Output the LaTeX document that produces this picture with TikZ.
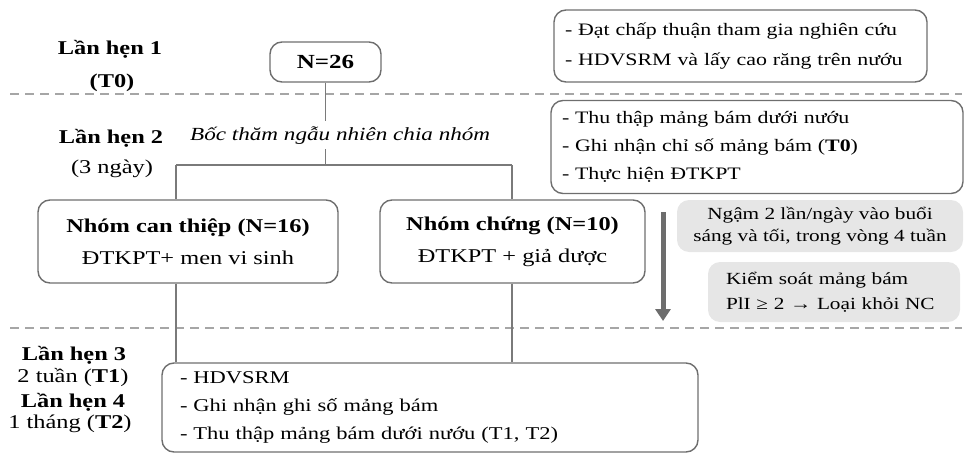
\documentclass[tikz,border=0pt]{standalone}
\usepackage{fontspec}
\setmainfont{Liberation Serif}[FakeStretch=1.25]
\usetikzlibrary{arrows.meta}
\definecolor{linegray}{HTML}{7A7A7A}
\definecolor{boxgray}{HTML}{6E6E6E}
\definecolor{dashgray}{HTML}{A6A6A6}
\definecolor{fillgray}{HTML}{E6E6E6}
\definecolor{arrowgray}{HTML}{6D6D6D}
\tikzset{
  rbox/.style={draw=boxgray, line width=1.4pt, rounded corners=12pt, inner sep=0pt},
  gbox/.style={fill=fillgray, rounded corners=12pt, inner sep=0pt},
  conn/.style={draw=linegray, line width=1.6pt},
  sep/.style={draw=dashgray, line width=1.3pt, dash pattern=on 9pt off 6pt},
  lbl/.style={anchor=base, inner sep=0pt, font=\fontsize{19.5}{22}\selectfont},
  boxtxt/.style={font=\fontsize{17.5}{30}\selectfont},
}
\begin{document}
\begin{tikzpicture}[x=1pt,y=-1pt]
\useasboundingbox (0,0) rectangle (965,455);
% separators
\coordinate (s1l) at (10,94); \coordinate (s1r) at (962,94);
\coordinate (s2l) at (10,328); \coordinate (s2r) at (962,328);
\draw[sep] (s1l) -- (s1r);
\draw[sep] (s2l) -- (s2r);
% left labels
\node[lbl] (l1) at (110,54) {\textbf{Lần hẹn 1}};
\node[lbl] (l1b) at (112,87) {\textbf{(T0)}};
\node[lbl] (l2) at (111,143) {\textbf{Lần hẹn 2}};
\node[lbl] (l2b) at (112,173) {(3 ngày)};
\node[lbl] (l3) at (74,360) {\textbf{Lần hẹn 3}};
\node[lbl] (l3b) at (73,382) {2 tuần (\textbf{T1})};
\node[lbl] (l4) at (73,407) {\textbf{Lần hẹn 4}};
\node[lbl] (l4b) at (70,428) {1 tháng (\textbf{T2})};
% N=26
\node[rbox, minimum width=111pt, minimum height=40pt, font=\fontsize{20}{24}\selectfont\bfseries] (n26) at (325.5,62) {N=26};
% top-right box
\node[rbox, boxtxt, minimum width=373pt, minimum height=72pt, text width=351pt, align=left, inner xsep=11pt] (b1) at (740.5,46)
  {- Đạt chấp thuận tham gia nghiên cứu\\- HDVSRM và lấy cao răng trên nướu};
% second right box
\node[rbox, minimum width=412pt, minimum height=93pt, text width=390pt, align=left, inner xsep=11pt, font=\fontsize{17.5}{28}\selectfont] (b2) at (757,147)
  {- Thu thập mảng bám dưới nướu\\- Ghi nhận chỉ số mảng bám (\textbf{T0})\\- Thực hiện ĐTKPT};
% randomisation text
\node[anchor=base west, inner xsep=0pt, inner ysep=5pt, font=\fontsize{18.5}{22}\selectfont\itshape] (rand) at (190,140) {Bốc thăm ngẫu nhiên chia nhóm};
% group boxes
\node[rbox, minimum width=300pt, minimum height=83pt, align=center, font=\fontsize{19.5}{32}\selectfont] (ct) at (188,241.5)
  {\textbf{Nhóm can thiệp (N=16)}\\ĐTKPT+ men vi sinh};
\node[rbox, minimum width=265pt, minimum height=83pt, align=center, font=\fontsize{19.5}{32}\selectfont] (nc) at (512.5,241.5)
  {\textbf{Nhóm chứng (N=10)}\\ĐTKPT + giả dược};
% grey boxes
\node[gbox, minimum width=286pt, minimum height=52pt, align=center, font=\fontsize{17}{22}\selectfont] (g1) at (820,226)
  {Ngậm 2 lần/ngày vào buổi\\sáng và tối, trong vòng 4 tuần};
\node[gbox, minimum width=252pt, minimum height=60pt, text width=216pt, inner xsep=18pt, align=left, font=\fontsize{17}{25}\selectfont] (g2) at (834,292)
  {Kiểm soát mảng bám\\PlI ≥ 2 → Loại khỏi NC};
% bottom box
\node[rbox, minimum width=536pt, minimum height=89pt, text width=500pt, inner xsep=18pt, align=left, font=\fontsize{18}{28}\selectfont] (bot) at (430,407.5)
  {- HDVSRM\\- Ghi nhận ghi số mảng bám\\- Thu thập mảng bám dưới nướu (T1, T2)};
% connectors
\coordinate (split) at (325.5,165);
\coordinate (L) at (176,165);
\coordinate (R) at (512,165);
\draw[conn] (n26.south) -- (n26.south |- rand.north);
\draw[conn] (n26.south |- rand.south) -- (split);
\draw[conn] (L) -- (R);
\draw[conn] (L) -- (L |- ct.north);
\draw[conn] (R) -- (R |- nc.north);
\draw[conn] (L |- ct.south) -- (L |- bot.north);
\draw[conn] (R |- nc.south) -- (R |- bot.north);
% arrow
\coordinate (atop) at (663,212);
\coordinate (abot) at (663,321);
\draw[draw=arrowgray, line width=5pt, -{Triangle[width=15pt,length=12pt]}, color=arrowgray] (atop) -- (abot);
\end{tikzpicture}
\end{document}
